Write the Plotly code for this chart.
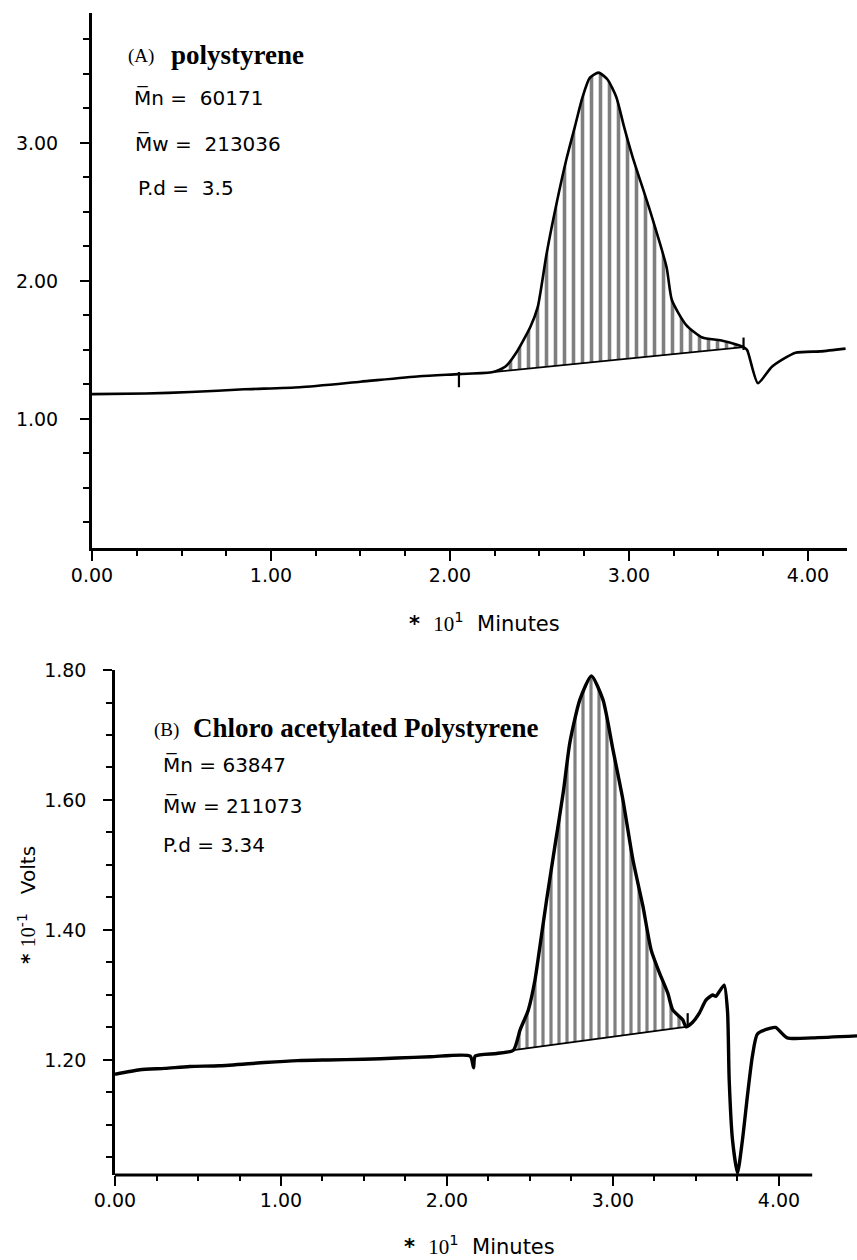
import plotly.graph_objects as go

# ---------------- data ----------------
# Panel A : polystyrene  (x in 10^1 min, y in volts)
A_time = [0.00, 0.30, 0.55, 0.85, 1.16, 1.50, 1.83, 2.05, 2.24, 2.31, 2.37, 2.45, 2.49, 2.54,
          2.60, 2.65, 2.70, 2.74, 2.78, 2.83, 2.88, 2.93, 2.97, 3.02, 3.11, 3.21, 3.24, 3.32,
          3.41, 3.51, 3.60, 3.64, 3.66, 3.72, 3.80, 3.93, 4.07, 4.21]
A_signal = [1.18, 1.185, 1.195, 1.215, 1.23, 1.27, 1.31, 1.325, 1.34, 1.38, 1.48, 1.67, 1.81, 2.20,
            2.59, 2.88, 3.13, 3.33, 3.47, 3.51, 3.46, 3.33, 3.13, 2.90, 2.54, 2.10, 1.86, 1.68,
            1.59, 1.57, 1.54, 1.52, 1.50, 1.26, 1.38, 1.48, 1.49, 1.51]
A_base_time = [2.24, 3.64]
A_base_signal = [1.34, 1.52]
A_marks_time = [2.05, 3.64]
A_marks_low = [1.23, 1.50]
A_marks_high = [1.34, 1.59]

# Panel B : chloro acetylated polystyrene
B_time = [0.00, 0.15, 0.30, 0.45, 0.63, 0.90, 1.10, 1.28, 1.50, 1.70, 1.90, 2.14, 2.16, 2.17,
          2.30, 2.40, 2.44, 2.49, 2.53, 2.56, 2.60, 2.65, 2.70, 2.74, 2.80, 2.87, 2.94, 3.00,
          3.06, 3.12, 3.18, 3.23, 3.28, 3.33, 3.36, 3.42, 3.44, 3.48, 3.52, 3.56, 3.60, 3.62,
          3.64, 3.67, 3.69, 3.70, 3.72, 3.75, 3.78, 3.81, 3.84, 3.87, 3.95, 3.98, 4.05, 4.20, 4.47]
B_signal = [1.178, 1.185, 1.187, 1.190, 1.191, 1.196, 1.199, 1.200, 1.201, 1.203, 1.205, 1.206,
            1.188, 1.206, 1.210, 1.215, 1.246, 1.277, 1.323, 1.375, 1.446, 1.529, 1.611, 1.688,
            1.754, 1.791, 1.754, 1.677, 1.600, 1.508, 1.437, 1.369, 1.334, 1.303, 1.277, 1.262,
            1.251, 1.258, 1.272, 1.292, 1.300, 1.298, 1.305, 1.315, 1.275, 1.170, 1.077, 1.026,
            1.077, 1.145, 1.206, 1.240, 1.249, 1.250, 1.234, 1.234, 1.237]
B_base_time = [2.40, 3.44]
B_base_signal = [1.215, 1.251]
B_marks_time = [3.45]
B_marks_low = [1.252]
B_marks_high = [1.272]

# tick labels
A_xticks = [0, 1, 2, 3, 4]
A_xticktext = ["0.00", "1.00", "2.00", "3.00", "4.00"]
A_yticks = [1, 2, 3]
A_yticktext = ["1.00", "2.00", "3.00"]
B_xticks = [0, 1, 2, 3, 4]
B_xticktext = ["0.00", "1.00", "2.00", "3.00", "4.00"]
B_yticks = [1.2, 1.4, 1.6, 1.8]
B_yticktext = ["1.20", "1.40", "1.60", "1.80"]
A_xminor = [0.25, 0.5, 0.75, 1.25, 1.5, 1.75, 2.25, 2.5, 2.75, 3.25, 3.5, 3.75]
A_yminor = [0.25, 0.5, 0.75, 1.25, 1.5, 1.75, 2.25, 2.5, 2.75, 3.25, 3.5, 3.75]
B_xminor = [0.25, 0.5, 0.75, 1.25, 1.5, 1.75, 2.25, 2.5, 2.75, 3.25, 3.5, 3.75]
B_yminor = [1.05, 1.10, 1.15, 1.25, 1.30, 1.35, 1.45, 1.50, 1.55, 1.65, 1.70, 1.75]

# ---------------- figure ----------------
W, H = 857, 1260
def px(x):
    return x / W
def py(y):
    return 1 - y / H

fig = go.Figure()

def add_panel(t, s, bt, bs, mt, ml, mh, xa, ya, lw, psize):
    lo, hi = bt[0], bt[-1]
    pk_t = [a for a in t if lo <= a <= hi]
    pk_s = [b for a, b in zip(t, s) if lo <= a <= hi]
    fig.add_trace(go.Scatter(x=bt, y=bs, mode="lines", line=dict(color="black", width=1.8),
                             xaxis=xa, yaxis=ya, hoverinfo="skip"))
    fig.add_trace(go.Scatter(x=pk_t, y=pk_s, mode="lines",
                             line=dict(color="black", width=0, shape="spline", smoothing=0.6),
                             fill="tonexty", fillcolor="rgba(0,0,0,0)",
                             fillpattern=dict(shape="|", size=psize, solidity=0.4,
                                              fgcolor="black", bgcolor="white"),
                             xaxis=xa, yaxis=ya, hoverinfo="skip"))
    fig.add_trace(go.Scatter(x=t, y=s, mode="lines",
                             line=dict(color="black", width=lw, shape="spline", smoothing=0.6),
                             xaxis=xa, yaxis=ya))
    mx, my = [], []
    for a, b, c in zip(mt, ml, mh):
        mx += [a, a, None]
        my += [b, c, None]
    fig.add_trace(go.Scatter(x=mx, y=my, mode="lines", line=dict(color="black", width=2.2),
                             xaxis=xa, yaxis=ya, hoverinfo="skip"))

add_panel(A_time, A_signal, A_base_time, A_base_signal, A_marks_time, A_marks_low, A_marks_high,
          "x", "y", 2.6, 9)
add_panel(B_time, B_signal, B_base_time, B_base_signal, B_marks_time, B_marks_low, B_marks_high,
          "x2", "y2", 3.4, 8)

tickfont = dict(family="DejaVu Sans", size=19, color="black")

def xax(domain, rng, anchor, tv, tt, minor, showline):
    return dict(domain=domain, range=rng, anchor=anchor, showline=showline, linewidth=3,
                linecolor="black", ticks="outside", tickvals=tv, ticktext=tt, ticklen=10,
                tickwidth=2, tickcolor="black", tickfont=tickfont, showgrid=False,
                zeroline=False, ticklabelstandoff=-2, automargin=False,
                minor=dict(tickmode="array", tickvals=minor, ticks="outside", ticklen=5,
                           tickwidth=1.5, tickcolor="black", showgrid=False))

def yax(domain, rng, anchor, tv, tt, minor, standoff, lw):
    return dict(domain=domain, range=rng, anchor=anchor, showline=True, linewidth=lw,
                linecolor="black", ticks="outside", tickvals=tv, ticktext=tt, ticklen=9,
                tickwidth=2, tickcolor="black", tickfont=tickfont, showgrid=False,
                zeroline=False, ticklabelstandoff=standoff, automargin=False,
                minor=dict(tickmode="array", tickvals=minor, ticks="outside", ticklen=6,
                           tickwidth=1.5, tickcolor="black", showgrid=False))

fig.update_layout(
    width=W, height=H, margin=dict(l=0, r=0, t=0, b=0, autoexpand=False),
    paper_bgcolor="white", plot_bgcolor="white", showlegend=False,
    xaxis=xax([px(92), px(847)], [0, 4.218], "y", A_xticks, A_xticktext, A_xminor, True),
    yaxis=yax([py(548), py(13)], [0.065, 3.942], "x", A_yticks, A_yticktext, A_yminor, 18, 3),
    xaxis2=xax([px(115), 1.0], [0, 4.47], "y2", B_xticks, B_xticktext, B_xminor, False),
    yaxis2=yax([py(1175), py(670)], [1.023, 1.80], "x2", B_yticks, B_yticktext, B_yminor, 13, 2.5),
)

# bottom x-axis line stops short of the plot edge
fig.add_shape(type="line", xref="x2", yref="y2 domain", x0=0, x1=4.2, y0=0, y1=0,
              line=dict(color="black", width=3))

serif = "Liberation Serif"
sans = "DejaVu Sans"

def ann(text, x, y, family, size, xanchor="left", angle=0, bold=False):
    fig.add_annotation(text=text, x=px(x), y=py(y), xref="paper", yref="paper",
                       xanchor=xanchor, yanchor="middle", showarrow=False, textangle=angle,
                       font=dict(family=family, size=size, color="black",
                                 weight="bold" if bold else "normal"))

# Panel A texts
ann("(A)", 126, 56, serif, 19)
ann("polystyrene", 169, 55, serif, 27, bold=True)
ann("M\u0305n =  60171", 132, 98, sans, 20)
ann("M\u0305w =  213036", 133, 143, sans, 20)
ann("P.d =  3.5", 136, 188, sans, 20)

# Panel B texts
ann("(B)", 152, 730, serif, 19)
ann("Chloro acetylated Polystyrene", 191, 728, serif, 27, bold=True)
ann("M\u0305n = 63847", 161, 765, sans, 20)
ann("M\u0305w = 211073", 161, 806, sans, 20)
ann("P.d = 3.34", 161, 845, sans, 20)

# axis titles
xt = "<b>*</b>  <span style='font-family:Liberation Serif'>10</span><sup>1</sup>  Minutes"
ann(xt, 484, 622, sans, 21, xanchor="center")
ann(xt, 480, 1245, sans, 21, xanchor="center")
ann("<b>*</b> <span style='font-family:Liberation Serif'>10</span><sup>-1</sup>   Volts",
    27, 905, sans, 20, xanchor="center", angle=-90)

fig.write_html("out.html")
